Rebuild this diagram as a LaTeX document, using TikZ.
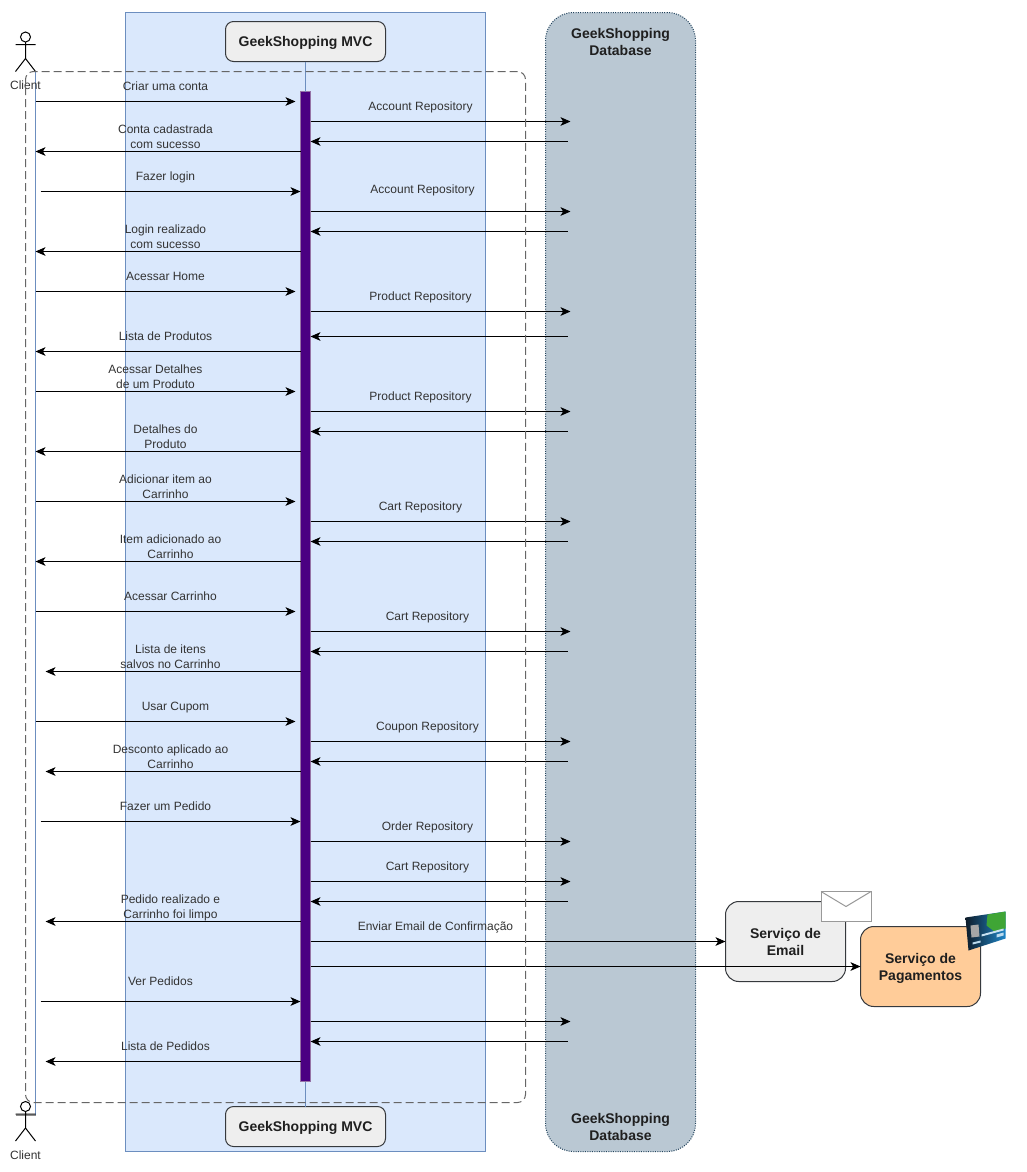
\documentclass[tikz,border=0pt]{standalone}
\usepackage{fontspec}
\setmainfont{Liberation Sans}
\usetikzlibrary{arrows.meta,positioning,shapes.geometric}

\definecolor{mvcfill}{HTML}{DAE8FC}
\definecolor{mvcline}{HTML}{6C8EBF}
\definecolor{dbfill}{HTML}{BAC8D3}
\definecolor{dbline}{HTML}{23445D}
\definecolor{boxfill}{HTML}{EEEEEE}
\definecolor{boxline}{HTML}{36393D}
\definecolor{payfill}{HTML}{FFCC99}
\definecolor{barfill}{HTML}{4B0082}
\definecolor{barline}{HTML}{9673A6}
\definecolor{labeltext}{HTML}{333333}
\definecolor{cardleft}{HTML}{0E1C2A}
\definecolor{cardright}{HTML}{1F86C8}
\definecolor{cardgreen}{HTML}{3FA535}

\newcommand{\titlestrut}{\vrule width 0pt height 10.2pt depth 3pt}

\tikzset{
	msg/.style={draw=black, line width=0.75pt, -{Stealth[length=7.5pt,width=6.5pt,inset=2pt]}},
	msglabel/.style={font=\fontsize{9}{11.25}\selectfont, text=labeltext, align=center, inner sep=0pt, yshift=-0.4pt, execute at begin node=\strut, execute at end node=\strut},
	titlelabel/.style={font=\fontsize{10.5}{12.75}\selectfont\bfseries, text=black!88, align=center, inner sep=0pt},
	twolines/.style={execute at begin node={\vrule width 0pt height 13.2pt depth 0pt}, execute at end node={\vrule width 0pt height 0pt depth 3pt}},
	mvcbox/.style={draw=boxline, fill=boxfill, rounded corners=6pt, line width=0.75pt, minimum width=120pt, minimum height=30pt, outer sep=0pt, titlelabel, execute at begin node=\titlestrut},
	servicebox/.style={draw=boxline, rounded corners=10pt, line width=0.75pt, minimum width=90pt, minimum height=60pt, outer sep=0pt},
	actorman/.pic={
		\draw[line width=0.75pt] (0,-6.5) circle (5);
		\draw[line width=0.75pt] (0,-1.5) -- (0,15) (-10,1) -- (10,1) (-10,28) -- (0,15) -- (10,28);
	},
}

\begin{document}
\begin{tikzpicture}[x=0.75pt, y=-0.75pt]
	\useasboundingbox (-0.5,-0.5) rectangle (1025.5,1171.5);

	% swimlanes
	\node (mvclane) at (305,581.5) [draw=mvcline, fill=mvcfill, line width=0.75pt, minimum width=270pt, minimum height=854.25pt, outer sep=0pt] {};
	\node (dblane) at (620,581.5) [draw=dbline, fill=dbfill, densely dotted, rounded corners=21pt, line width=0.75pt, minimum width=112.5pt, minimum height=854.25pt, outer sep=0pt] {};
	\node (dbtop) at (620,43) [titlelabel, twolines] {GeekShopping\\Database};
	\node (dbbottom) at (620,1128) [titlelabel, twolines] {GeekShopping\\Database};

	% client lifeline
	\fill[white] (25,71) rectangle (35,1115);
	\coordinate (clienttop) at (35,71);
	\coordinate (clientbottom) at (35,1115);
	\coordinate (clientfoot) at (15,1115);
	\draw[mvcline, line width=0.75pt] (clienttop) -- (clientbottom);
	\draw[black!45, line width=0.75pt] (clientbottom) -- (clientfoot);
	\pic at (25,43) {actorman};
	\pic at (25,1112.5) {actorman};
	\node (clientup) at (25,85) [msglabel] {Client};
	\node (clientdown) at (25,1155) [msglabel] {Client};

	% mvc lifeline
	\node (mvctop) at (305,41) [mvcbox] {GeekShopping MVC};
	\node (mvcbottom) at (305,1126) [mvcbox] {GeekShopping MVC};
	\node (bar) at (305,586) [draw=barline, fill=barfill, line width=0.75pt, minimum width=7.5pt, minimum height=742.5pt, outer sep=0pt] {};
	\draw[mvcline, line width=0.75pt] (mvctop.south) -- (bar.north);
	\draw[mvcline, line width=0.75pt] (bar.south) -- (mvcbottom.north);

	% services
	\node (email) at (785,941) [servicebox, fill=boxfill] {};
	\node (pay) at (920,966) [servicebox, fill=payfill] {};
	\node (emailtext) at (785,943) [titlelabel, twolines] {Serviço de\\Email};
	\node (paytext) at (920,968) [titlelabel, twolines] {Serviço de\\Pagamentos};

	% envelope
	\node (mail) at (845.5,906) [draw=black!40, fill=white, line width=0.75pt, minimum width=37.5pt, minimum height=22.5pt, outer sep=0pt] {};
	\draw[black!40, line width=0.75pt] (mail.north west) -- (845.5,906) -- (mail.north east);

	% card
	\shade[left color=cardleft, right color=cardright] (965,917) -- (1005,911) -- (1005,938) -- (968,950) -- cycle;
	\fill[cardgreen] (987,914) -- (1005,911) -- (1005,928) -- (994,931) -- (986,925) -- cycle;
	\fill[black!35] (970,925) -- (978,924) -- (979,936) -- (971,937) -- cycle;
	\fill[white!75!cardright] (981,934) -- (1003,928) -- (1003,930) -- (981,936) -- cycle;
	\fill[white!70!cardright] (972,942) -- (980,940) -- (980,942) -- (972,944) -- cycle;
	\fill[white!70!cardright] (996,934) -- (1003,932) -- (1003,935) -- (996,937) -- cycle;

	% messages between client and mvc
	\foreach \n/\xa/\xb/\y/\lx/\ly/\txt in {
		1/35/295/101/165/86/{Criar uma conta},
		2/300/35/151/165/137.5/{Conta cadastrada\\com sucesso},
		3/40/300/191/165/176/{Fazer login},
		4/300/35/251/165/237.5/{Login realizado\\com sucesso},
		5/35/295/291/165/276/{Acessar Home},
		6/300/35/351/165/336/{Lista de Produtos},
		7/35/295/391/155/377.5/{Acessar Detalhes\\de um Produto},
		8/300/35/451/165/437.5/{Detalhes do\\Produto},
		9/35/295/501/165/487.5/{Adicionar item ao\\Carrinho},
		10/300/35/561/170/547.5/{Item adicionado ao\\Carrinho},
		11/35/295/611/170/596/{Acessar Carrinho},
		12/300/45/671/170/657.5/{Lista de itens\\salvos no Carrinho},
		13/35/295/721/175/706/{Usar Cupom},
		14/300/45/771/170/757.5/{Desconto aplicado ao\\Carrinho},
		15/40/300/821/165/806/{Fazer um Pedido},
		16/300/45/921/170/907.5/{Pedido realizado e\\Carrinho foi limpo},
		17/40/300/1001/160/981/{Ver Pedidos},
		18/300/45/1061/165/1046/{Lista de Pedidos}} {
		\coordinate (from\n) at (\xa,\y);
		\coordinate (to\n) at (\xb,\y);
		\draw[msg] (from\n) -- (to\n);
		\node (label\n) at (\lx,\ly) [msglabel] {\txt};
	}

	% calls to the database
	\foreach \n/\y/\lx/\ly/\txt in {
		1/121/420/106/{Account Repository},
		2/211/422/189/{Account Repository},
		3/311/420/296/{Product Repository},
		4/411/420/396/{Product Repository},
		5/521/420/506/{Cart Repository},
		6/631/427/616/{Cart Repository},
		7/741/427/726/{Coupon Repository},
		8/841/427/826/{Order Repository},
		9/881/427/866/{Cart Repository}} {
		\coordinate (call\n) at (310,\y);
		\coordinate (db\n) at (570,\y);
		\draw[msg] (call\n) -- (db\n);
		\node (repo\n) at (\lx,\ly) [msglabel] {\txt};
	}
	\coordinate (call10) at (310,1021);
	\coordinate (db10) at (570,1021);
	\draw[msg] (call10) -- (db10);

	% answers from the database
	\foreach \n/\y in {1/141,2/231,3/336,4/431,5/541,6/651,7/761,9/901,10/1041} {
		\coordinate (dbback\n) at (567,\y);
		\coordinate (barback\n) at (310,\y);
		\draw[msg] (dbback\n) -- (barback\n);
	}

	% calls to the services
	\coordinate (mailcall) at (310,941);
	\coordinate (paycall) at (310,966);
	\draw[msg] (mailcall) -- (email.west);
	\draw[msg] (paycall) -- (pay.west);
	\node (maillabel) at (435,926) [msglabel] {Enviar Email de Confirmação};

	% dashed frame
	\node (frame) at (275,586.5) [draw=black!60, dash pattern=on 6pt off 3pt, rounded corners=6pt, line width=0.75pt, minimum width=375pt, minimum height=773.25pt, outer sep=0pt] {};
\end{tikzpicture}
\end{document}
